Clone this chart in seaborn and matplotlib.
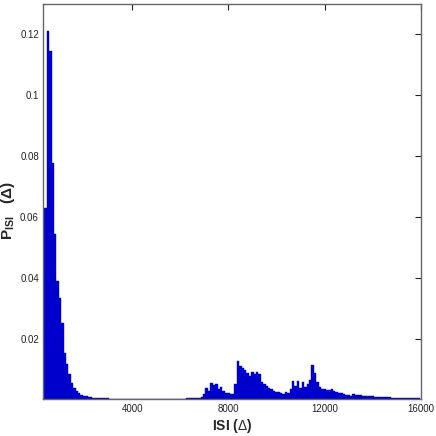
import numpy as np
import pandas as pd
import matplotlib
matplotlib.use("Agg")
import matplotlib.pyplot as plt
import seaborn as sns

# ISI histogram, bin width 100 (Delta units), first bin centred at 300
bin_start = 300
bin_width = 100

p_isi = [
    # early peak
    0.0, 0.063, 0.121, 0.1145, 0.0777, 0.0545, 0.0389, 0.0333, 0.0251, 0.0153,
    0.0115, 0.0082, 0.0055, 0.0039, 0.0028, 0.0020, 0.0015, 0.0012, 0.0010, 0.0008,
    0.0007, 0.0006, 0.0005, 0.0004, 0.0004, 0.0003, 0.0003,
    # long quiet stretch
    0.0003, 0.0002, 0.0002, 0.0002, 0.0002, 0.0002, 0.0002, 0.0002, 0.0002,
    0.0002, 0.0001, 0.0002, 0.0001, 0.0001, 0.0002, 0.0001, 0.0001, 0.0001, 0.0001,
    0.0002, 0.0001, 0.0001, 0.0001, 0.0001, 0.0001, 0.0001, 0.0002, 0.0001, 0.0001,
    0.0002, 0.0002, 0.0002,
    0.0002, 0.0003, 0.0003, 0.0003, 0.0004, 0.0005, 0.0006, 0.0008,
    # cluster around 7300
    0.0017, 0.0036, 0.0028, 0.0055, 0.0048, 0.0050, 0.0035, 0.0041, 0.0027, 0.0020,
    0.0021, 0.0018, 0.0017, 0.0050,
    # cluster around 8500
    0.0126, 0.0110, 0.0104, 0.0097, 0.0086, 0.0078, 0.0091, 0.0085, 0.0091, 0.0082,
    0.0057, 0.0051, 0.0043, 0.0039, 0.0033, 0.0028, 0.0024, 0.0023, 0.0020, 0.0017,
    0.0023, 0.0020,
    # cluster around 11500
    0.0035, 0.0061, 0.0045, 0.0061, 0.0036, 0.0057, 0.0042, 0.0052, 0.0065, 0.0113,
    0.0088, 0.0058, 0.0042, 0.0034, 0.0033, 0.0031, 0.0030, 0.0033, 0.0026, 0.0023,
    0.0022, 0.0020, 0.0017, 0.0016, 0.0015, 0.0012, 0.0017, 0.0015, 0.0013, 0.0016,
    # tail
    0.0012, 0.0012, 0.0011, 0.0010, 0.0010, 0.0009, 0.0009, 0.0008,
    0.0008, 0.0007, 0.0007, 0.0007, 0.0006, 0.0006, 0.0006,
    0.0005, 0.0005, 0.0004, 0.0005, 0.0004, 0.0004, 0.0003, 0.0004, 0.0003,
]

x_ticks = [4000, 8000, 12000, 16000]
y_ticks = [0.02, 0.04, 0.06, 0.08, 0.10, 0.12]
y_tick_labels = ["0.02", "0.04", "0.06", "0.08", "0.1", "0.12"]

centers = bin_start + bin_width * np.arange(len(p_isi))
edges = list(np.append(centers - bin_width / 2, centers[-1] + bin_width / 2))
hist_df = pd.DataFrame({"isi": centers, "p": p_isi})

sns.set_style("white")
plt.rcParams["font.family"] = ["Liberation Sans", "DejaVu Sans"]
plt.rcParams["mathtext.fontset"] = "custom"
plt.rcParams["mathtext.rm"] = "Liberation Sans"
plt.rcParams["mathtext.bf"] = "Liberation Sans:bold"

fig = plt.figure(figsize=(4.36, 4.36), dpi=100)
ax = fig.add_axes([0.099, 0.084, 0.866, 0.907])

sns.histplot(data=hist_df, x="isi", weights="p", bins=edges, ax=ax,
             color="#0000CD", edgecolor="#0000CD", linewidth=0.3, alpha=1)

ax.set_xlim(300, 16000)
ax.set_ylim(0, 0.13)
ax.set_xticks(x_ticks)
ax.set_yticks(y_ticks)
ax.set_yticklabels(y_tick_labels)
ax.tick_params(direction="in", length=4, width=0.8, labelsize=7,
               top=True, right=True, colors="#222222", pad=3)

for s in ax.spines.values():
    s.set_color("#666666")
    s.set_linewidth(1.0)

ax.set_xlabel("ISI ($\\Delta$)", fontsize=10, fontweight="bold")
ax.set_ylabel("$\\mathbf{P_{ISI}}$   ($\\mathbf{\\Delta}$)", fontsize=11,
              fontweight="bold")
ax.xaxis.set_label_coords(0.5, -0.045)
ax.yaxis.set_label_coords(-0.07, 0.477)

fig.savefig("out.png", dpi=100)
plt.close(fig)
